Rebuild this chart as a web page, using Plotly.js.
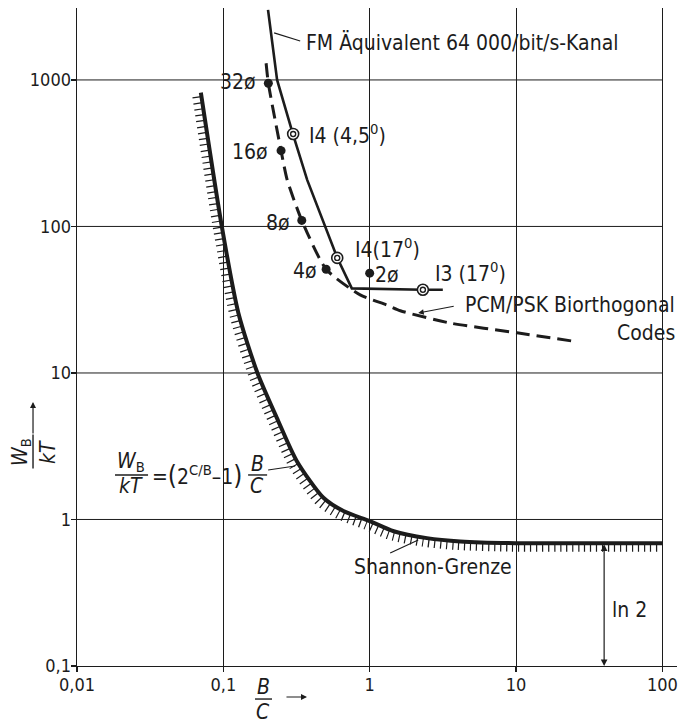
<!DOCTYPE html>
<html><head><meta charset="utf-8">
<script src="https://cdn.plot.ly/plotly-3.0.1.min.js"></script>
<style>html,body{margin:0;padding:0;background:#fff}</style>
</head><body><div id="chart" style="width:678px;height:724px"></div>
<script>
// ---- data ----
const shannonX = [0.0702, 0.0976, 0.1268, 0.171, 0.232, 0.318, 0.483, 0.662, 1.0, 1.46, 2.46, 4.16, 9.9, 30, 100];
const shannonY = [819, 100, 25.6, 10, 4.94, 2.50, 1.406, 1.141, 0.975, 0.831, 0.746, 0.708, 0.689, 0.689, 0.689];
const fmLineX = [0.202, 0.233, 0.2985, 0.374, 0.600, 0.755, 2.31, 3.16];
const fmLineY = [3006, 1000, 428, 208, 61.2, 37.8, 37, 37];
const pcmLineX = [0.196, 0.203, 0.248, 0.273, 0.3435, 0.504, 0.861, 1.31, 1.62, 3.55, 10.15, 25.4];
const pcmLineY = [1300, 950, 329, 208, 110, 51, 34.1, 29.1, 26.6, 21.9, 18.8, 16.4];
const pskX = [0.203, 0.248, 0.3435, 0.504, 1.0];
const pskY = [950, 329, 110, 51, 48];
const pskLabels = ["32ø", "16ø", "8ø", "4ø", "2ø"];
const fmPtX = [0.30, 0.60, 2.31];
const fmPtY = [428, 61, 37];
const fmPtLabels = ["I4 (4,5<sup>0</sup>)", "I4(17<sup>0</sup>)", "I3 (17<sup>0</sup>)"];
const ln2X = 40, ln2Top = 0.693, ln2Bottom = 0.1;
const xTickVals = [0.01, 0.1, 1, 10, 100];
const xTickText = ["0,01", "0,1", "1", "10", "100"];
const yTickVals = [0.1, 1, 10, 100, 1000];
const yTickText = ["0,1", "1", "10", "100", "1000"];

const INK = '#1c1c1c';
const FONT = '"DejaVu Sans Condensed", "Liberation Sans Narrow", sans-serif';
const L = Math.log10;
const P = (v) => Math.pow(10, v);

const traces = [
  // hatching of the Shannon limit (same data, drawn on slightly shifted overlay axes)
  {x: shannonX, y: shannonY, xaxis: 'x2', yaxis: 'y2', mode: 'lines',
   line: {color: INK, width: 9, dash: '1.2px,4.8px', shape: 'spline', smoothing: 0.7}, hoverinfo: 'skip'},
  {x: shannonX, y: shannonY, mode: 'lines', line: {color: INK, width: 4, shape: 'spline', smoothing: 0.7}},
  {x: fmLineX, y: fmLineY, mode: 'lines', line: {color: INK, width: 2.6}},
  {x: pcmLineX, y: pcmLineY, mode: 'lines', line: {color: INK, width: 3, dash: '14px,7px', shape: 'spline', smoothing: 0.6}},
  {x: pskX, y: pskY, mode: 'markers', marker: {color: INK, size: 9, symbol: 'circle'}},
  {x: fmPtX, y: fmPtY, mode: 'markers', marker: {color: '#fff', size: 11, symbol: 'circle', line: {color: INK, width: 1.6}}},
  {x: fmPtX, y: fmPtY, mode: 'markers', marker: {color: INK, size: 5, symbol: 'circle-open', line: {color: INK, width: 1.4}}}
];

const shapes = [];
// horizontal grid lines, ending at B/C = 100
yTickVals.slice(1).forEach(v => shapes.push({type: 'line', xref: 'x', yref: 'y', x0: 0.01, x1: 100, y0: v, y1: v,
  line: {color: INK, width: 1}, layer: 'below'}));

// segments given in log10 units for data refs, paper units otherwise
function seg(x0, y0, x1, y1, w, paper) {
  if (paper) {
    shapes.push({type: 'line', xref: 'paper', yref: 'paper', x0: x0, y0: y0, x1: x1, y1: y1, line: {color: INK, width: w || 1.2}});
  } else {
    shapes.push({type: 'line', xref: 'x', yref: 'y', x0: P(x0), y0: P(y0), x1: P(x1), y1: P(y1), line: {color: INK, width: w || 1.2}});
  }
}
seg(-0.653, 3.321, -0.475, 3.266);       // FM label leader
seg(0.1402, -0.2287, 0.3316, -0.1399);   // Shannon label leader
seg(-0.694, 0.3379, -0.5094, 0.3652);    // formula leader
seg(-1.7402, 0.3038, -1.5145, 0.3038, 1.4);  // W_B / kT bar
seg(-0.8308, 0.3038, -0.7009, 0.3038, 1.4);  // B / C bar
seg(-0.0733, 0.352, -0.0733, 0.300, 1.4, true); // y title bar
seg(0.2967, -0.0502, 0.325, -0.0502, 1.4, true); // x title bar

const f = (s) => ({family: FONT, size: s || 21, color: INK});
const ann = [];
function txt(x, y, text, xa, size, ref, extra) {
  ann.push(Object.assign({x: x, y: y, xref: ref || 'x', yref: ref || 'y', text: text, showarrow: false,
    xanchor: xa || 'left', yanchor: 'middle', font: f(size)}, extra || {}));
}
txt(-0.448, 3.2526, 'FM Äquivalent 64 000/bit/s-Kanal', 'left');
// PSK point labels
txt(-0.7624, 2.986, pskLabels[0], 'right');
txt(-0.6803, 2.5085, pskLabels[1], 'right');
txt(-0.5299, 2.0239, pskLabels[2], 'right');
txt(-0.3453, 1.6962, pskLabels[3], 'right');
txt(0.0239, 1.669, pskLabels[4], 'left');
// FM point labels
txt(-0.4274, 2.6314, fmPtLabels[0], 'left');
txt(-0.1128, 1.8532, fmPtLabels[1], 'left');
txt(0.4342, 1.6894, fmPtLabels[2], 'left');
// PCM label
txt(1, 1.4642, 'PCM/PSK Biorthogonal', 'right', 21, null, {xref: 'paper'});
txt(1, 1.273, 'Codes', 'right', 21, null, {xref: 'paper'});
ann.push({x: 0.3316, y: 1.4096, ax: 0.5846, ay: 1.4573, axref: 'x', ayref: 'y', xref: 'x', yref: 'y',
  showarrow: true, arrowhead: 2, arrowsize: 1, arrowwidth: 1.1, arrowcolor: INK, text: '', standoff: 0});
// Shannon label
txt(0.4342, -0.3242, 'Shannon-Grenze', 'center');
// ln 2
txt(1.6444, -0.6177, 'ln 2', 'left');
ann.push({x: L(ln2X), y: L(ln2Bottom), ax: L(ln2X), ay: L(ln2Top), axref: 'x', ayref: 'y', xref: 'x', yref: 'y',
  showarrow: true, arrowhead: 2, startarrowhead: 2, arrowside: 'end+start', arrowsize: 1.1, arrowwidth: 1.2,
  arrowcolor: INK, text: '', standoff: 0, startstandoff: 0});
// formula
txt(-1.6308, 0.3925, '<i>W</i><sub>B</sub>', 'center');
txt(-1.6308, 0.2275, '<i>kT</i>', 'center');
txt(-1.5009, 0.3038, '=<span style="font-size:26px">(</span>2<sup>C/B</sup>–1<span style="font-size:26px">)</span>', 'left');
txt(-0.7692, 0.3779, '<i>B</i>', 'center');
txt(-0.7692, 0.2275, '<i>C</i>', 'center');
// y axis title (rotated fraction + arrow)
txt(-0.0933, 0.3252, '<i>W</i><sub>B</sub>', 'center', 21, 'paper', {textangle: -90});
txt(-0.0483, 0.3252, '<i>kT</i>', 'center', 21, 'paper', {textangle: -90});
ann.push({x: -0.0733, y: 0.4012, xref: 'paper', yref: 'paper', ax: 0, ay: 33, showarrow: true, arrowhead: 2,
  arrowsize: 1, arrowwidth: 1.2, arrowcolor: INK, text: '', standoff: 0});
// x axis title
txt(0.31, -0.0319, '<i>B</i>', 'center', 21, 'paper');
txt(0.31, -0.0699, '<i>C</i>', 'center', 21, 'paper');
ann.push({x: 0.3833, y: -0.0471, xref: 'paper', yref: 'paper', ax: -22, ay: 0, showarrow: true, arrowhead: 2,
  arrowsize: 1, arrowwidth: 1.2, arrowcolor: INK, text: '', standoff: 0});

const xr = [-2, 2.1], yr = [-1, 3.491];
const dx = 4 / 146.25, dy = 4 / 146.5;
const hidden = {visible: false, showgrid: false, showline: false, zeroline: false, showticklabels: false, ticks: ''};
const layout = {
  width: 678, height: 724,
  margin: {l: 77, r: 1, t: 8, b: 58},
  paper_bgcolor: '#fff', plot_bgcolor: '#fff',
  showlegend: false,
  font: f(21),
  xaxis: {type: 'log', range: xr, tickvals: xTickVals, ticktext: xTickText, ticks: 'outside', ticklen: 5,
    tickcolor: INK, tickwidth: 1.2, showline: true, linecolor: INK, linewidth: 1.4, showgrid: true,
    gridcolor: INK, gridwidth: 1, zeroline: false, tickfont: f(18), ticklabelstandoff: -3},
  yaxis: {type: 'log', range: yr, tickvals: yTickVals, ticktext: yTickText, ticks: 'outside', ticklen: 5,
    tickcolor: INK, tickwidth: 1.2, showline: true, linecolor: INK, linewidth: 1.4, showgrid: false,
    zeroline: false, tickfont: f(18), ticklabelstandoff: -4},
  xaxis2: Object.assign({type: 'log', overlaying: 'x', anchor: 'y2', range: [xr[0] + dx, xr[1] + dx]}, hidden),
  yaxis2: Object.assign({type: 'log', overlaying: 'y', anchor: 'x2', range: [yr[0] + dy, yr[1] + dy]}, hidden),
  shapes: shapes,
  annotations: ann
};
Plotly.newPlot('chart', traces, layout, {displayModeBar: false, staticPlot: true});
</script></body></html>
